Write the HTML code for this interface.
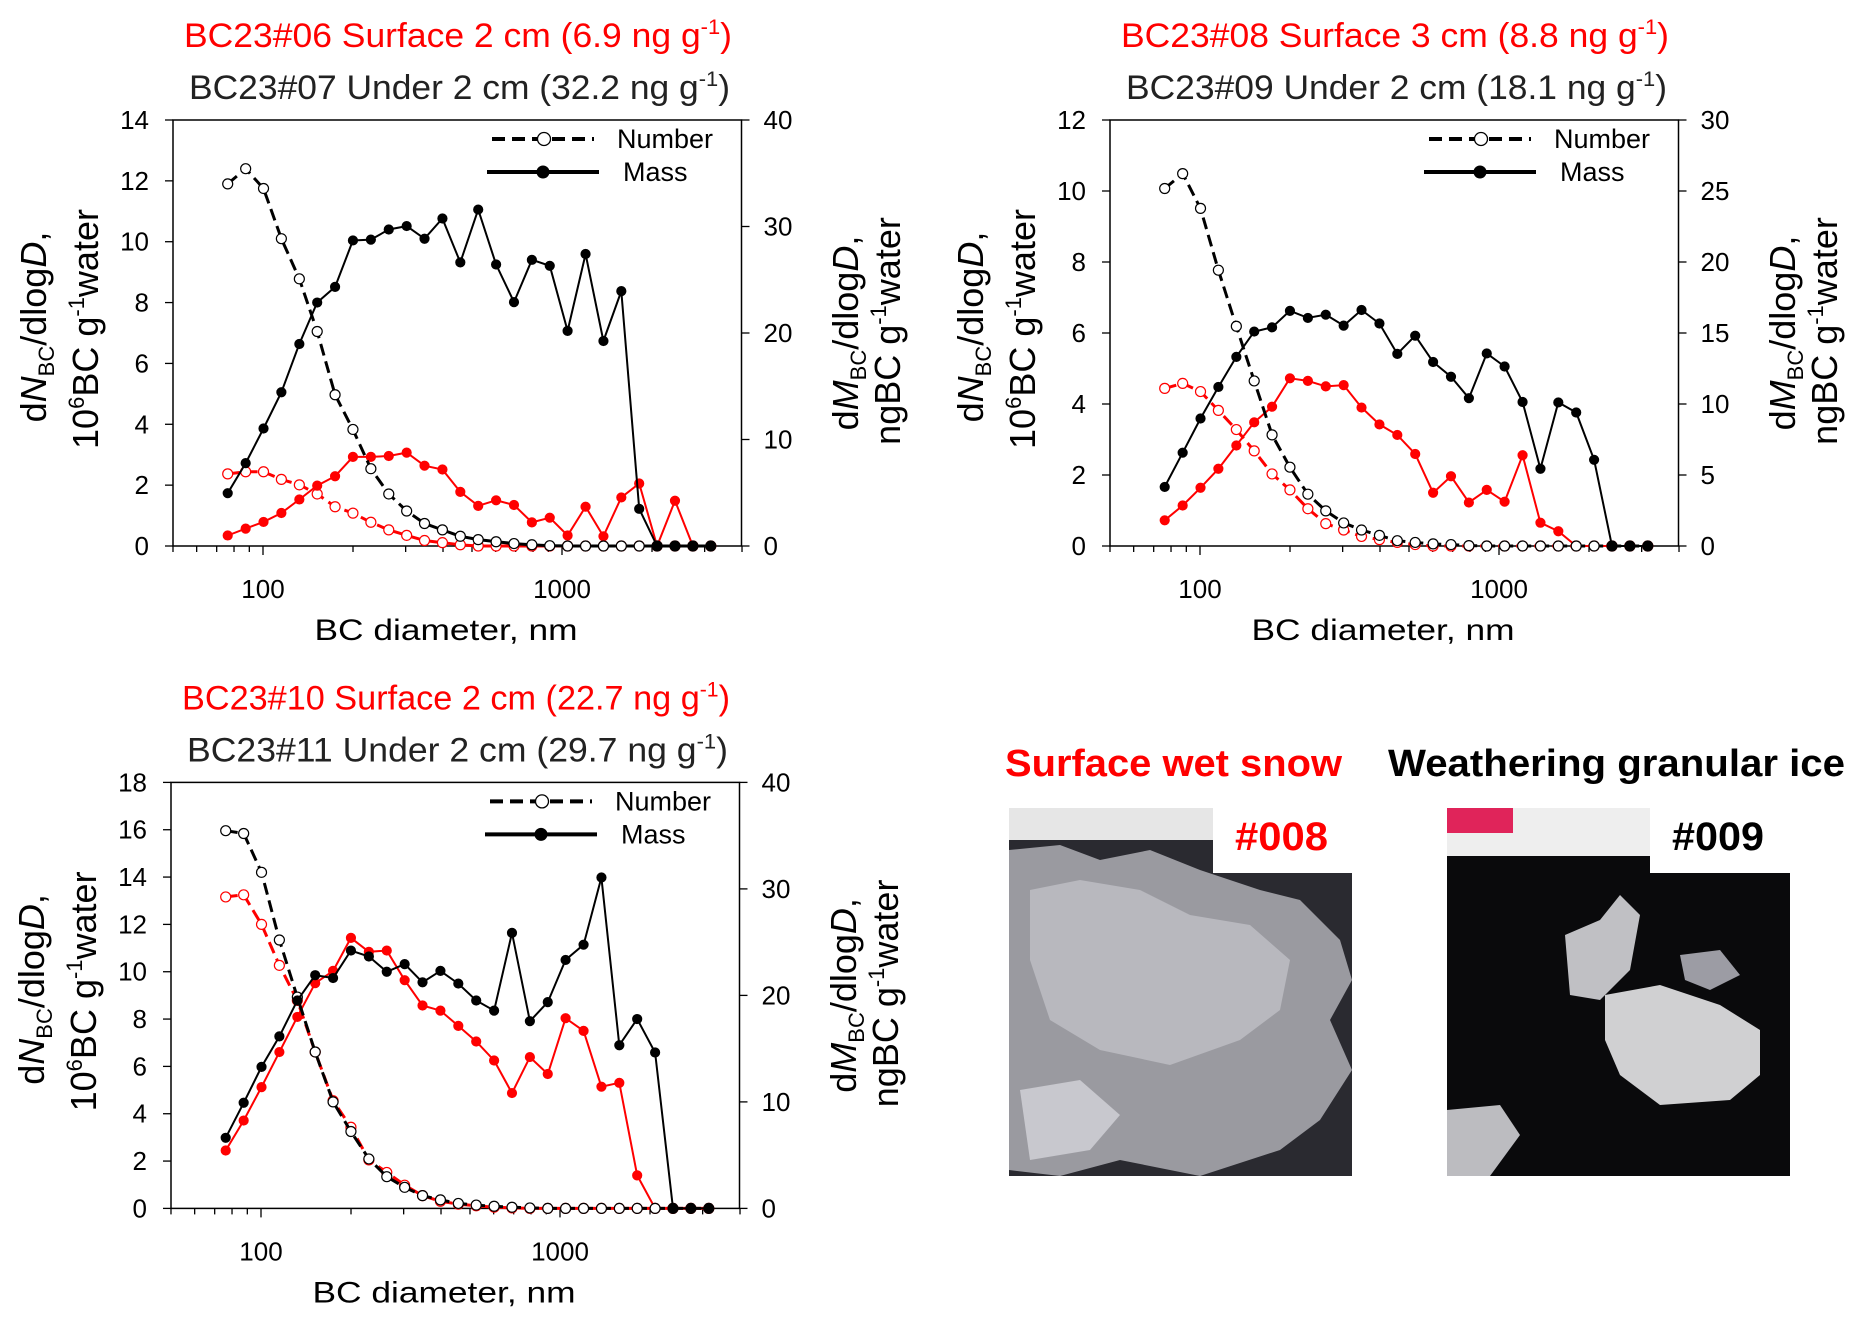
<!DOCTYPE html>
<html><head><meta charset="utf-8">
<style>
html,body{margin:0;padding:0;background:#fff;}
svg{display:block;font-family:"Liberation Sans",sans-serif;}
</style></head>
<body>
<svg id="fig" width="1854" height="1318" viewBox="0 0 1854 1318">
  <g>
    <text x="1005" y="776" font-size="38" font-weight="bold" fill="#ff0000" textLength="337" lengthAdjust="spacingAndGlyphs">Surface wet snow</text>
    <text x="1388" y="776" font-size="38" font-weight="bold" fill="#000" textLength="457" lengthAdjust="spacingAndGlyphs">Weathering granular ice</text>
    <g>
      <rect x="1009" y="808" width="343" height="368" fill="#2a2a30"/>
      <rect x="1009" y="808" width="204" height="32" fill="#e6e6e6"/>
      <path d="M1009 850 L1060 845 L1100 860 L1150 850 L1200 870 L1260 890 L1300 900 L1340 940 L1352 980 L1330 1020 L1352 1070 L1320 1120 L1280 1150 L1200 1176 L1120 1160 L1060 1176 L1009 1170 Z" fill="#9a9aa0"/>
      <path d="M1030 890 L1080 880 L1140 890 L1190 915 L1250 925 L1290 960 L1280 1010 L1240 1040 L1170 1065 L1100 1050 L1050 1020 L1030 960 Z" fill="#b8b8be"/>
      <path d="M1020 1090 L1080 1080 L1120 1115 L1090 1150 L1030 1160 Z" fill="#c8c8ce"/>
      <rect x="1213" y="808" width="139" height="65" fill="#fff"/>
      <text x="1235" y="850" font-size="40" font-weight="bold" fill="#ff0000" textLength="93" lengthAdjust="spacingAndGlyphs">#008</text>
    </g>
    <g>
      <rect x="1447" y="808" width="343" height="368" fill="#0a0a0c"/>
      <rect x="1447" y="808" width="203" height="48" fill="#eeeeee"/>
      <rect x="1447" y="808" width="66" height="25" fill="#e0245a"/>
      <path d="M1565 935 L1600 920 L1620 895 L1640 915 L1630 970 L1600 1000 L1570 995 Z" fill="#c0c0c4"/>
      <path d="M1605 995 L1660 985 L1720 1005 L1760 1030 L1760 1075 L1730 1100 L1660 1105 L1620 1075 L1605 1040 Z" fill="#d0d0d2"/>
      <path d="M1447 1110 L1500 1105 L1520 1135 L1490 1176 L1447 1176 Z" fill="#bcbcc0"/>
      <path d="M1680 955 L1720 950 L1740 975 L1710 990 L1685 980 Z" fill="#9c9ca4"/>
      <rect x="1650" y="808" width="140" height="65" fill="#fff"/>
      <text x="1672" y="850" font-size="40" font-weight="bold" fill="#000" textLength="92" lengthAdjust="spacingAndGlyphs">#009</text>
    </g>
  </g>
</svg>
<script>
const diameters=[76.2,87.5,100.4,115.2,132.3,151.8,174.2,199.9,229.5,263.4,302.3,346.9,398.2,457,524.5,602,690.9,793,910,1044,1199,1376,1579,1812,2080,2387,2740,3145];
const xTickValues=[50,60,70,80,90,100,200,300,400,500,600,700,800,900,1000,2000,3000,4000];
const xTickLabels=[100,1000];

const p1NumBlack=[11.9,12.4,11.75,10.1,8.78,7.05,4.97,3.83,2.54,1.71,1.15,0.74,0.53,0.32,0.21,0.14,0.08,0.04,0.01,0,0,0,0,0,0,0,0,0];
const p1MassBlack=[4.96,7.78,11.03,14.44,18.97,22.86,24.33,28.69,28.77,29.72,30.04,28.85,30.75,26.63,31.59,26.43,22.9,26.87,26.31,20.2,27.42,19.25,23.93,3.49,0,0,0,0];
const p1NumRed=[2.37,2.44,2.44,2.19,2.01,1.71,1.29,1.08,0.78,0.53,0.35,0.18,0.11,0.04,0,0,0,0,0,0,0,0,0,0,0,0,0,0];
const p1MassRed=[0.99,1.63,2.26,3.1,4.37,5.67,6.55,8.37,8.37,8.45,8.77,7.54,7.18,5.08,3.77,4.29,3.85,2.22,2.66,0.99,3.69,0.91,4.56,5.87,0,4.25,0,0];
const p1LeftTicks=[0,2,4,6,8,10,12,14];
const p1RightTicks=[0,10,20,30,40];

const p2NumBlack=[10.07,10.49,9.51,7.77,6.19,4.65,3.13,2.22,1.46,0.99,0.65,0.45,0.3,0.15,0.1,0.06,0.04,0.01,0,0,0,0,0,0,0,0,0,0];
const p2MassBlack=[4.16,6.57,8.98,11.2,13.32,15.1,15.4,16.56,16.06,16.29,15.52,16.62,15.67,13.53,14.81,12.96,11.92,10.41,13.56,12.64,10.14,5.44,10.11,9.4,6.07,0,0,0];
const p2NumRed=[4.44,4.58,4.35,3.82,3.28,2.68,2.03,1.58,1.05,0.63,0.45,0.27,0.18,0.1,0.04,0,0,0,0,0,0,0,0,0,0,0,0,0];
const p2MassRed=[1.81,2.85,4.1,5.44,7.08,8.71,9.81,11.81,11.63,11.24,11.33,9.75,8.56,7.82,6.48,3.75,4.91,3.06,3.95,3.12,6.39,1.64,1.04,0,0,0,0,0];
const p2LeftTicks=[0,2,4,6,8,10,12];
const p2RightTicks=[0,5,10,15,20,25,30];

const p3NumBlack=[15.96,15.84,14.2,11.34,8.93,6.61,4.5,3.25,2.09,1.34,0.89,0.54,0.36,0.21,0.14,0.09,0.05,0.02,0,0,0,0,0,0,0,0,0,0];
const p3MassBlack=[6.63,9.92,13.29,16.15,19.52,21.9,21.63,24.21,23.65,22.22,22.94,21.23,22.3,21.11,19.52,18.57,25.87,17.58,19.37,23.33,24.76,31.07,15.32,17.78,14.64,0,0,0];
const p3NumRed=[13.16,13.25,12.0,10.27,8.79,6.61,4.55,3.43,2.05,1.52,0.98,0.54,0.3,0.18,0.11,0.05,0.02,0,0,0,0,0,0,0,0,0,0,0];
const p3MassRed=[5.44,8.25,11.39,14.68,17.98,21.15,22.3,25.4,24.09,24.21,21.43,19.05,18.57,17.14,15.67,13.89,10.83,14.21,12.62,17.86,16.67,11.43,11.79,3.1,0,0,0,0];
const p3LeftTicks=[0,2,4,6,8,10,12,14,16,18];
const p3RightTicks=[0,10,20,30,40];

const NS="http://www.w3.org/2000/svg";
const svg=document.getElementById('fig');
function mk(tag,attrs,parent){const e=document.createElementNS(NS,tag);for(const k in attrs)e.setAttribute(k,attrs[k]);(parent||svg).appendChild(e);return e;}
function tspan(parent,txt,attrs){const t=document.createElementNS(NS,'tspan');for(const k in attrs)t.setAttribute(k,attrs[k]);t.textContent=txt;parent.appendChild(t);return t;}

function drawPanel(id,dx,dy,leftMax,rightMax,leftTicks,rightTicks,numB,massB,numR,massR,redTitle,redConc,blackTitle,blackConc){
  const L=173+dx,R=741.5+dx,T=120+dy,B=546+dy;
  const x100=263+dx,dec=299;
  const xs=v=>x100+(Math.log10(v)-2)*dec;
  const yl=v=>B-(v/leftMax)*(B-T);
  const yr=v=>B-(v/rightMax)*(B-T);
  const g=mk('g',{});
  
  
  const t1=mk('text',{x:184+dx,y:47+dy,'font-size':34,fill:'#ff0000',textLength:548,lengthAdjust:'spacingAndGlyphs'},g);
  
  
  tspan(t1,redTitle+' ('+redConc+' ng g',{});
  tspan(t1,'-1',{dy:-13,'font-size':21});
  tspan(t1,')',{dy:13});
  const t2=mk('text',{x:189+dx,y:99+dy,'font-size':34,fill:'#222',textLength:541,lengthAdjust:'spacingAndGlyphs'},g);
  
  
  tspan(t2,blackTitle+' ('+blackConc+' ng g',{});
  tspan(t2,'-1',{dy:-13,'font-size':21});
  tspan(t2,')',{dy:13});
  const box=mk('rect',{x:L,y:T,width:R-L,height:B-T,fill:'none',stroke:'#000','stroke-width':1.5},g);
  
  
  xTickValues.forEach(v=>{const x=xs(v);const major=(v===100||v===1000);
    const tk=mk('line',{x1:x,x2:x,y1:B,y2:B+(major?9:6),stroke:'#000','stroke-width':1.3},g);
    
    });
  xTickLabels.forEach(v=>{const tl=mk('text',{x:xs(v),y:B+52,'font-size':26,'text-anchor':'middle'},g);tl.textContent=v;
    
    });
  const xt=mk('text',{x:446+dx,y:B+94,'font-size':30,'text-anchor':'middle',textLength:263,lengthAdjust:'spacingAndGlyphs'},g);
  xt.textContent='BC diameter, nm';
  
  
  leftTicks.forEach(v=>{const y=yl(v);
    const tk=mk('line',{x1:L-8,x2:L,y1:y,y2:y,stroke:'#000','stroke-width':1.3},g);
    
    
    const tl=mk('text',{x:L-24,y:y+9,'font-size':26,'text-anchor':'end'},g);tl.textContent=v;
    
    });
  rightTicks.forEach(v=>{const y=yr(v);
    const tk=mk('line',{x1:R,x2:R+8,y1:y,y2:y,stroke:'#000','stroke-width':1.3},g);
    
    
    const tl=mk('text',{x:R+22,y:y+9,'font-size':26,'text-anchor':'start'},g);tl.textContent=v;
    
    });
  const ly1=mk('text',{x:0,y:0,'font-size':36,'text-anchor':'middle',transform:`translate(${46+dx},${327+dy}) rotate(-90)`},g);
  
  
  tspan(ly1,'d',{});tspan(ly1,'N',{'font-style':'italic'});tspan(ly1,'BC',{'font-size':22,dy:8});tspan(ly1,'/dlog',{dy:-8});tspan(ly1,'D',{'font-style':'italic'});tspan(ly1,',',{});
  const ly2=mk('text',{x:0,y:0,'font-size':36,'text-anchor':'middle',transform:`translate(${98+dx},${329+dy}) rotate(-90)`},g);
  
  
  tspan(ly2,'10',{});tspan(ly2,'6',{'font-size':22,dy:-14});tspan(ly2,'BC  g',{dy:14});tspan(ly2,'-1',{'font-size':22,dy:-14});tspan(ly2,'water',{dy:14});
  const ry1=mk('text',{x:0,y:0,'font-size':36,'text-anchor':'middle',transform:`translate(${858+dx},${333+dy}) rotate(-90)`},g);
  
  
  tspan(ry1,'d',{});tspan(ry1,'M',{'font-style':'italic'});tspan(ry1,'BC',{'font-size':22,dy:8});tspan(ry1,'/dlog',{dy:-8});tspan(ry1,'D',{'font-style':'italic'});tspan(ry1,',',{});
  const ry2=mk('text',{x:0,y:0,'font-size':36,'text-anchor':'middle',transform:`translate(${900+dx},${331+dy}) rotate(-90)`},g);
  
  
  tspan(ry2,'ngBC  g',{});tspan(ry2,'-1',{'font-size':22,dy:-14});tspan(ry2,'water',{dy:14});
  function series(vals,scale,color,dashed,filled,name){
    const pts=vals.map((v,i)=>xs(diameters[i]).toFixed(1)+','+scale(v).toFixed(1)).join(' ');
    const pl=mk('polyline',{points:pts,fill:'none',stroke:color,'stroke-width':dashed?3:2,'stroke-dasharray':dashed?'12,6':'none'},g);
    
    
    vals.forEach((v,i)=>{const c=mk('circle',{cx:xs(diameters[i]),cy:scale(v),r:filled?4.5:5,fill:filled?color:'#fff',stroke:color,'stroke-width':1.2},g);
      
      });
  }
  series(numR,yl,'#ff0000',true,false,'red-number');
  series(massR,yr,'#ff0000',false,true,'red-mass');
  series(numB,yl,'#000',true,false,'black-number');
  series(massB,yr,'#000',false,true,'black-mass');
  const lg=mk('g',{},g);
  
  
  mk('line',{x1:492+dx,x2:594+dx,y1:139+dy,y2:139+dy,stroke:'#000','stroke-width':4,'stroke-dasharray':'13,7'},lg);
  mk('circle',{cx:544+dx,cy:139+dy,r:6.5,fill:'#fff',stroke:'#000','stroke-width':1.3},lg);
  const ln=mk('text',{x:617+dx,y:148+dy,'font-size':27},lg);ln.textContent='Number';
  
  
  mk('line',{x1:487+dx,x2:599+dx,y1:172+dy,y2:172+dy,stroke:'#000','stroke-width':4},lg);
  mk('circle',{cx:543+dx,cy:172+dy,r:6.5,fill:'#000'},lg);
  const lm=mk('text',{x:623+dx,y:181+dy,'font-size':27},lg);lm.textContent='Mass';
  
  
}
drawPanel('chart-bc23-06-07',0,0,14,40,p1LeftTicks,p1RightTicks,p1NumBlack,p1MassBlack,p1NumRed,p1MassRed,'BC23#06 Surface 2 cm','6.9','BC23#07 Under 2 cm','32.2');
drawPanel('chart-bc23-08-09',937,0,12,30,p2LeftTicks,p2RightTicks,p2NumBlack,p2MassBlack,p2NumRed,p2MassRed,'BC23#08 Surface 3 cm','8.8','BC23#09 Under 2 cm','18.1');
drawPanel('chart-bc23-10-11',-2,662.4,18,40,p3LeftTicks,p3RightTicks,p3NumBlack,p3MassBlack,p3NumRed,p3MassRed,'BC23#10 Surface 2 cm','22.7','BC23#11 Under 2 cm','29.7');
</script>
</body></html>
